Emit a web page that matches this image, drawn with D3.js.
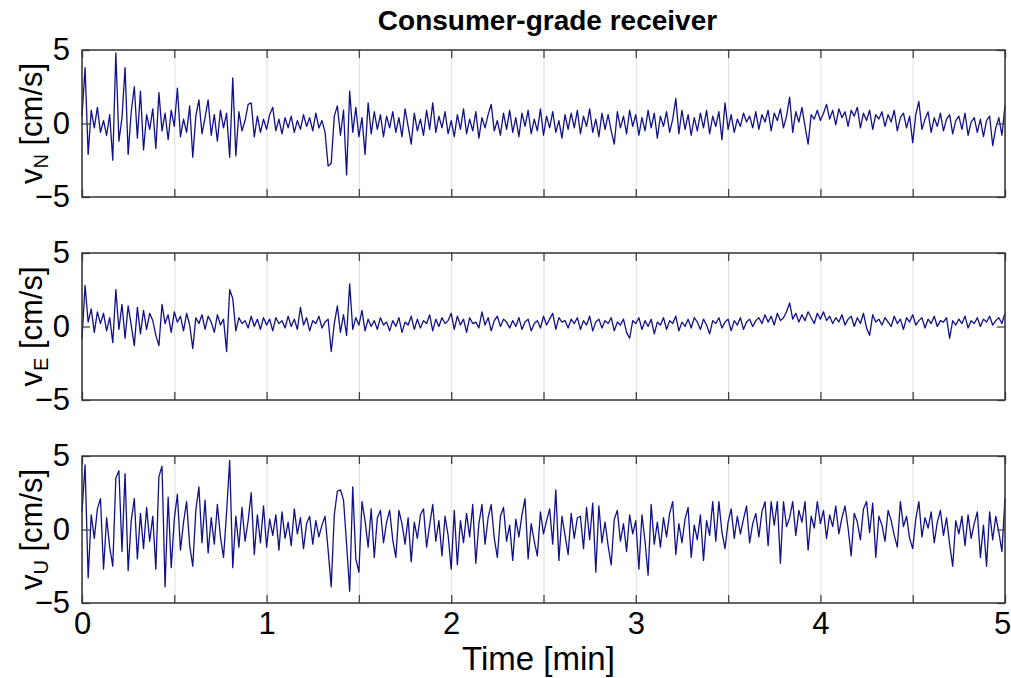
<!DOCTYPE html>
<html>
<head>
<meta charset="utf-8">
<script src="https://cdn.jsdelivr.net/npm/d3@7/dist/d3.min.js"></script>
<style>
  body { margin: 0; background: #fff; }
  svg text { font-family: "Liberation Sans", Arial, sans-serif; fill: #000; }
</style>
</head>
<body>
<div id="chart"></div>
<script>
// velocity residuals, 1 Hz over 5 minutes, cm/s
const vN = [
  0.5, 3.8, -2.1, 0.9, -0.3, 1.1, -0.6, 0.2, -0.8, 0.6, -2.5, 4.8, -1.2, 0.4, 3.8, -2.1, 0.8, 2.5, -1.0, 2.2,
  -1.8, 0.6, -0.4, 1.0, -1.7, 2.1, -0.5, 0.7, -1.1, 0.9, -0.2, 2.4, -0.9, 0.3, -0.6, 1.2, -2.3, 0.5, 1.6, -0.7,
  0.4, 1.6, -0.8, 0.6, -1.2, 0.9, -0.3, 0.7, -2.3, 3.1, -2.2, 0.8, -0.5, 0.2, 1.3, 1.4, -0.9, 0.5, -0.6, 0.3,
  -0.4, 0.6, 1.1, -0.5, 0.3, -0.7, 0.4, -0.3, 0.5, -0.6, 0.2, -0.4, 0.6, -0.2, 0.4, -0.5, 0.7, -0.3, 0.2, -0.6,
  -2.9, -2.7, 0.5, 1.2, -0.8, 0.9, -3.5, 2.2, -0.6, 1.1, -0.9, 0.4, -2.1, 1.4, -0.7, 0.8, -0.4, 0.6, -0.9, 0.5,
  -0.3, 0.8, -0.6, 0.4, -0.9, 1.0, -0.2, -1.4, 0.7, -0.5, 0.3, -0.8, 0.9, -0.4, 1.4, -0.6, 0.5, -0.3, 0.8, -0.7,
  0.2, -0.9, 0.6, -0.4, 1.0, -0.7, 0.3, -0.5, 0.8, -1.0, 0.4, -0.3, 0.6, 1.3, -0.5, 0.2, -0.8, 0.7, -0.4, 0.9,
  -0.6, 0.4, -0.9, 0.7, -0.2, 0.9, -0.7, 0.3, -0.5, 1.0, -0.8, 0.5, -0.3, 0.8, -0.6, 0.2, -1.0, 0.6, -0.4, 0.7,
  -0.3, 0.9, -0.7, 0.5, -0.2, 1.0, -0.6, 0.3, -0.9, 0.7, -0.4, 0.6, -0.5, -1.4, 0.8, -0.3, 0.5, -0.7, 0.9, -0.2,
  0.6, -0.8, 0.4, -0.5, 0.9, -0.3, 0.7, -1.0, 0.5, -0.2, 0.8, -0.6, 0.3, 1.7, -0.7, 0.9, -0.4, 0.6, -0.8, 0.4,
  -0.5, 0.7, -0.3, 0.9, -0.7, 0.5, -0.2, 0.8, -1.1, 1.4, -0.4, 0.6, -0.6, 0.3, -0.2, 0.7, 0.1, 0.5, -0.3, 0.8,
  -0.4, 0.6, 0.1, 0.9, -0.5, 0.7, 0.2, 1.0, -0.3, 0.5, 1.8, -0.6, 0.8, 0.1, 1.1, -0.2, -1.4, 0.6, 0.3, 0.9,
  0.2, 0.7, 1.3, 0.3, 0.9, -0.1, 1.0, 0.4, 0.8, -0.2, 0.9, 0.5, 1.1, -0.3, 0.7, 0.2, 0.9, -0.4, 0.6, 0.3,
  0.8, -0.2, 0.6, 0.1, 0.9, -0.5, 0.4, 0.7, -0.3, 0.5, -1.3, 0.6, 1.5, -0.4, 0.3, 0.8, -0.6, 0.4, -0.2, 0.7,
  -0.5, 0.3, 0.6, -0.7, 0.2, 0.5, -0.4, 0.7, -0.8, 0.1, 0.4, -0.6, 0.3, -0.9, 0.2, 0.5, -1.5, -0.3, 0.4, -0.8,
  1.2
]

const vE = [
  -0.8, 2.8, 0.3, 1.2, -0.4, 1.0, 0.2, 0.9, -0.3, 0.6, -1.1, 2.5, -0.2, 1.5, -0.8, 1.4, 0.1, -1.3, 1.3, -0.5,
  1.1, -0.2, 0.9, 0.4, -0.6, -1.3, 1.5, 0.2, 0.8, -0.4, 1.0, 0.3, 0.7, -0.3, 0.9, 0.1, -1.5, 0.6, 0.2, 0.8,
  -0.2, 0.7, 0.3, -0.4, 0.8, 0.1, 0.5, -1.7, 2.5, 1.9, -0.3, 0.6, 0.2, 0.4, -0.1, 0.7, 0.0, 0.5, -0.2, 0.6,
  0.1, 0.5, -0.3, 0.6, 0.2, 0.4, -0.1, 0.7, 0.0, 0.5, -0.2, 1.3, 0.1, 0.6, -0.3, 0.4, 0.2, 0.7, -0.1, 0.3,
  0.5, -1.7, 0.2, 1.4, -0.4, 0.8, -0.6, 2.9, -0.2, 0.6, 0.1, 1.1, -0.3, 0.5, 0.0, 0.4, -0.2, 0.6, 0.1, 0.3,
  -0.3, 0.4, 0.0, 0.6, -0.4, 0.3, 0.1, 0.7, -0.2, 0.5, -0.1, 0.4, 0.2, 0.8, -0.3, 0.5, 0.0, 0.6, 0.2, 0.4,
  0.9, -0.2, 0.7, 0.1, 0.5, -0.4, 0.6, 0.2, 0.3, -0.1, 1.0, 0.1, 0.6, -0.3, 0.4, 0.7, 0.0, 0.5, 0.3, -0.1,
  0.4, 0.0, 0.6, -0.2, 0.3, 0.5, -0.3, 0.2, 0.4, -0.1, 0.7, 0.1, 0.5, 0.9, -0.2, 0.6, 0.3, 0.4, -0.1, 0.5,
  0.2, 0.6, -0.2, 0.4, 0.1, 0.7, -0.3, 0.3, 0.5, -0.1, 0.4, 0.2, 0.6, -0.3, 0.3, 0.1, 0.5, -0.4, -0.8, 0.4,
  0.2, 0.6, -0.2, 0.4, 0.0, 0.5, -0.5, 0.3, 0.1, 0.6, -0.2, 0.4, 0.2, 0.7, -0.3, 0.3, 0.0, 0.5, -0.1, 0.6,
  0.3, -0.2, 0.5, 0.1, -0.5, 0.4, 0.2, 0.6, -0.1, 0.3, 0.5, -0.3, 0.4, 0.1, 0.6, -0.2, 0.3, 0.5, 0.0, 0.4,
  0.6, 0.2, 0.8, 0.3, 0.7, 0.1, 0.9, 0.4, 0.6, 1.0, 1.6, 0.5, 0.9, 0.3, 0.8, 0.4, 1.0, 0.6, 0.2, 0.9,
  0.5, 1.0, 0.4, 0.7, 0.2, 0.6, 0.3, 0.8, 0.1, 0.5, 0.7, 0.0, 0.6, 0.2, 0.9, -0.1, -0.6, 0.8, 0.3, 0.5,
  0.1, 0.6, 0.3, 0.0, 0.7, 0.2, 0.5, -0.2, 0.6, 0.3, 0.8, 0.1, 0.4, 0.6, -0.1, 0.5, 0.2, 0.7, 0.0, 0.4,
  0.3, 0.6, -0.8, 0.4, 0.1, 0.5, 0.2, 0.7, -0.1, 0.4, 0.2, 0.6, 0.0, 0.5, 0.3, 0.7, 0.1, 0.4, 0.6, 0.2,
  0.9
]

const vU = [
  1.2, 4.4, -3.3, 1.0, -0.6, 1.4, 2.1, -2.7, 0.8, -1.2, -2.5, 3.5, 4.0, -1.5, 3.8, -2.8, 0.6, 2.1, -2.0, 1.1,
  -1.3, 1.5, -0.8, 0.9, -2.7, 3.6, 4.3, -3.9, 2.2, -2.6, 0.7, 2.4, -1.4, 0.5, 1.9, -1.1, -2.5, 1.3, 2.9, -0.9,
  2.0, -1.6, 0.8, -1.0, 1.7, -0.5, -1.9, 1.2, 4.7, -2.6, 0.9, -1.2, 1.5, -0.8, 0.6, 2.5, -1.7, 1.0, -0.9, 1.6,
  -1.2, 0.7, -0.4, 1.0, -1.4, 1.2, -0.6, 0.5, -1.1, 1.4, -0.3, 0.8, -1.3, 0.4, 0.9, -1.0, 0.6, -0.5, 0.3, 0.9,
  -1.4, -3.9, 1.0, 2.6, 2.7, 2.0, -1.0, -4.2, 2.9, -2.0, -2.9, 1.9, 0.6, -1.2, 1.4, -1.9, 0.8, 1.3, -0.9, 0.5,
  1.3, -0.7, -1.9, 1.3, 0.4, -1.0, 0.8, -2.2, 0.5, -0.6, 1.0, 1.4, -1.2, 0.3, 1.7, -0.8, 0.6, -1.8, 0.9, -0.4,
  -2.7, 1.3, -2.4, 0.6, -0.9, 1.1, -0.5, 1.7, -2.3, 0.4, 1.7, -1.0, 0.8, 1.7, -0.6, -1.9, 0.9, 1.5, -0.8, 0.3,
  -2.1, 0.7, -0.5, 1.0, 2.1, -2.0, 0.4, -0.8, -1.8, 1.2, -0.3, 0.6, 1.4, -1.0, 2.7, -2.1, 0.9, -0.4, -1.7, 1.1,
  -0.6, 0.8, 0.9, -1.3, 1.5, -0.7, 1.8, -2.9, 1.6, -0.9, 0.5, -1.1, -2.4, 0.7, 1.3, -0.8, 0.4, -1.5, 1.0, -0.3,
  0.6, -2.7, 1.0, -0.8, -3.1, 1.7, -1.0, 0.5, -1.2, 0.8, -0.5, 1.1, 1.9, -1.7, 0.4, -0.9, 0.7, 1.5, -1.9, 0.3,
  -0.7, 1.0, -2.1, 0.6, -0.4, 1.9, -0.8, 1.9, -0.2, -1.3, 0.5, 1.4, -0.6, 0.9, -0.3, 0.7, 1.6, -0.9, 0.4, 1.1,
  -0.5, 1.2, 1.9, -1.1, 1.9, 0.3, 1.9, -2.3, 1.9, 0.2, 0.8, 1.9, -0.4, 1.3, 0.5, 1.9, -1.4, 0.9, 0.1, 1.9,
  0.4, 1.3, -0.6, 1.0, 0.2, 1.6, -0.3, 0.8, 1.6, 0.1, -1.8, 1.1, 0.5, -0.7, 1.4, 1.9, -0.2, 1.8, -1.9, 0.9,
  0.3, -0.8, 1.3, 0.6, -0.4, -1.2, 1.9, 0.2, 0.9, -0.6, -1.3, 0.7, 1.9, -0.5, 0.8, 0.1, 1.2, -0.9, 0.5, 1.3,
  -0.4, 0.8, -1.0, -2.5, 0.6, -0.3, 0.9, -1.1, 1.0, -0.6, 0.4, 1.2, -1.9, 0.3, -2.5, 1.2, -0.7, 0.9, -0.2, -1.5,
  2.1
]

const xTicks = [0, 1, 2, 3, 4, 5]
const gridTicks = [0, 0.5, 1, 1.5, 2, 2.5, 3, 3.5, 4, 4.5, 5]
const yTicks = [-5, 0, 5]
const components = ['N', 'E', 'U']

const width = 1011
const height = 678
const left = 82, right = 1005
const panelTops = [50, 253, 456]
const panelH = 147

const svg = d3.select('#chart').append('svg')
  .attr('width', width).attr('height', height)

const x = d3.scaleLinear().domain([0, 5]).range([left, right])
const seconds = d3.range(vN.length)  // sample index, one per second

const series = [vN, vE, vU]

series.forEach((vals, k) => {
  const top = panelTops[k]
  const y = d3.scaleLinear().domain([-5, 5]).range([top + panelH, top])
  const g = svg.append('g')

  // light vertical grid
  g.append('g')
    .attr('transform', 'translate(0,' + (top + panelH) + ')')
    .call(d3.axisBottom(x).tickValues(gridTicks).tickSize(-panelH).tickFormat(''))
    .call(a => a.select('.domain').remove())
    .call(a => a.selectAll('line').attr('stroke', '#e2e2e2').attr('stroke-width', 1.2))

  const line = d3.line()
    .x((d, i) => x(seconds[i] / 60))
    .y(d => y(d))

  g.append('path')
    .datum(vals)
    .attr('fill', 'none')
    .attr('stroke', '#10108c')
    .attr('stroke-width', 1.3)
    .attr('stroke-linejoin', 'round')
    .attr('d', line)

  // inward ticks all round
  const tickStyle = a => {
    a.select('.domain').remove()
    a.selectAll('line').attr('stroke', '#444').attr('stroke-width', 1.3)
  }
  g.append('g').attr('transform', 'translate(0,' + (top + panelH) + ')')
    .call(d3.axisBottom(x).tickValues(gridTicks).tickSize(-8).tickFormat(''))
    .call(tickStyle)
  g.append('g').attr('transform', 'translate(0,' + top + ')')
    .call(d3.axisTop(x).tickValues(gridTicks).tickSize(-8).tickFormat(''))
    .call(tickStyle)
  g.append('g').attr('transform', 'translate(' + right + ',0)')
    .call(d3.axisRight(y).tickValues(yTicks).tickSize(-8).tickFormat(''))
    .call(tickStyle)
  g.append('g').attr('transform', 'translate(' + left + ',0)')
    .call(d3.axisLeft(y).tickValues(yTicks).tickSize(-8).tickPadding(12).tickFormat(d3.format('d')))
    .call(tickStyle)
    .call(a => a.selectAll('text').attr('font-size', 31).attr('fill', '#000')
      .attr('font-family', '"Liberation Sans", Arial, sans-serif'))

  g.append('rect')
    .attr('x', left).attr('y', top)
    .attr('width', right - left).attr('height', panelH)
    .attr('fill', 'none').attr('stroke', '#333').attr('stroke-width', 1.5)

  // y label with subscript
  const lab = g.append('text')
    .attr('transform', 'translate(42,' + (top + panelH / 2) + ') rotate(-90)')
    .attr('text-anchor', 'middle')
    .attr('font-size', 31)
  lab.append('tspan').text('v')
  lab.append('tspan').attr('font-size', 20).attr('dy', 6).text(components[k])
  lab.append('tspan').attr('dy', -6).text(' [cm/s]')

  if (k === 2) {
    g.append('g').attr('transform', 'translate(0,' + (top + panelH) + ')')
      .call(d3.axisBottom(x).tickValues(xTicks).tickSize(0).tickPadding(9).tickFormat(d3.format('d')))
      .call(a => a.select('.domain').remove())
      .call(a => a.selectAll('text').attr('font-size', 31).attr('fill', '#000')
        .attr('font-family', '"Liberation Sans", Arial, sans-serif')
        .attr('dx', d => d === 5 ? -3 : 0))
  }
})

svg.append('text')
  .attr('x', (left + right) / 2 + 4).attr('y', 30)
  .attr('text-anchor', 'middle')
  .attr('font-size', 28).attr('font-weight', 'bold')
  .text('Consumer-grade receiver')

svg.append('text')
  .attr('x', (left + right) / 2 - 5).attr('y', 670)
  .attr('text-anchor', 'middle')
  .attr('font-size', 33)
  .text('Time [min]')
</script>
</body>
</html>
